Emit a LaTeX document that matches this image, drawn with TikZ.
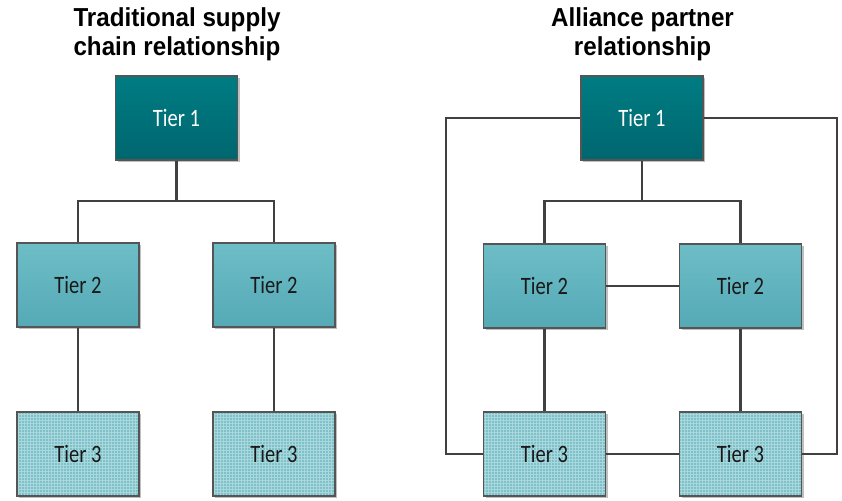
\documentclass[tikz,border=0pt]{standalone}
\usepackage{fontspec}
\setmainfont{Carlito}
\newfontfamily\tierfont[FakeStretch=0.82]{Carlito}
\newfontfamily\titlefont[FakeStretch=0.93]{Liberation Sans}
\usetikzlibrary{shadows}
\definecolor{tonetop}{HTML}{007C83}
\definecolor{tonebot}{HTML}{00666E}
\definecolor{ttwotop}{HTML}{6DBDC6}
\definecolor{ttwobot}{HTML}{55AAB6}
\definecolor{tthree}{HTML}{7DC2CA}
\definecolor{edge}{HTML}{555555}
\definecolor{wire}{HTML}{404040}
\tikzset{
  tierbox/.style={minimum width=122pt, minimum height=84pt, inner sep=0pt,
    draw=edge, line width=1.2pt, font=\tierfont\fontsize{25}{27}\selectfont,
    drop shadow={shadow xshift=2pt, shadow yshift=-2pt, opacity=0.25, fill=black}},
  tierone/.style={tierbox, top color=tonetop, bottom color=tonebot, text=white},
  tiertwo/.style={tierbox, top color=ttwotop, bottom color=ttwobot, text=black!90},
  tierthree/.style={tierbox, fill=tthree, text=black!90,
    path picture={\draw[step=3pt, white, opacity=0.35, line width=0.4pt]
      (path picture bounding box.south west) grid (path picture bounding box.north east);}},
  wireline/.style={draw=wire, line width=2.2pt},
  titletext/.style={font=\titlefont\bfseries\fontsize{26}{29}\selectfont, align=center, inner sep=0pt}
}
\begin{document}
\begin{tikzpicture}[x=1pt,y=-1pt]
\useasboundingbox (0,0) rectangle (842,500);
% titles
\node[titletext] (tl) at (177,34) {Traditional supply\\chain relationship};
\node[titletext] (tr) at (642.5,34) {Alliance partner\\relationship};
% left nodes
\node[tierone] (L1) at (176.5,118) {Tier 1};
\node[tiertwo] (L2a) at (78,285) {Tier 2};
\node[tiertwo] (L2b) at (274,285) {Tier 2};
\node[tierthree] (L3a) at (78,454) {Tier 3};
\node[tierthree] (L3b) at (274,454) {Tier 3};
% right nodes
\node[tierone] (R1) at (642,118) {Tier 1};
\node[tiertwo] (R2a) at (544.5,286) {Tier 2};
\node[tiertwo] (R2b) at (740.5,286) {Tier 2};
\node[tierthree] (R3a) at (544.5,454) {Tier 3};
\node[tierthree] (R3b) at (740.5,454) {Tier 3};
% left connectors
\coordinate (lbus) at (176.5,201);
\draw[wireline] (L1.south) -- (lbus);
\draw[wireline] (L2a.north) |- (lbus) -| (L2b.north);
\draw[wireline] (L2a) -- (L3a);
\draw[wireline] (L2b) -- (L3b);
% right connectors
\coordinate (rbus) at (642,201);
\draw[wireline] (R1.south) -- (rbus);
\draw[wireline] (R2a.north) |- (rbus) -| (R2b.north);
\draw[wireline] (R2a) -- (R2b);
\draw[wireline] (R2a) -- (R3a);
\draw[wireline] (R2b) -- (R3b);
\draw[wireline] (R3a) -- (R3b);
\coordinate (outl) at (446,118);
\coordinate (outr) at (837,118);
\draw[wireline] (R1.west) -- (outl) |- (R3a.west);
\draw[wireline] (R1.east) -- (outr) |- (R3b.east);
\end{tikzpicture}
\end{document}
